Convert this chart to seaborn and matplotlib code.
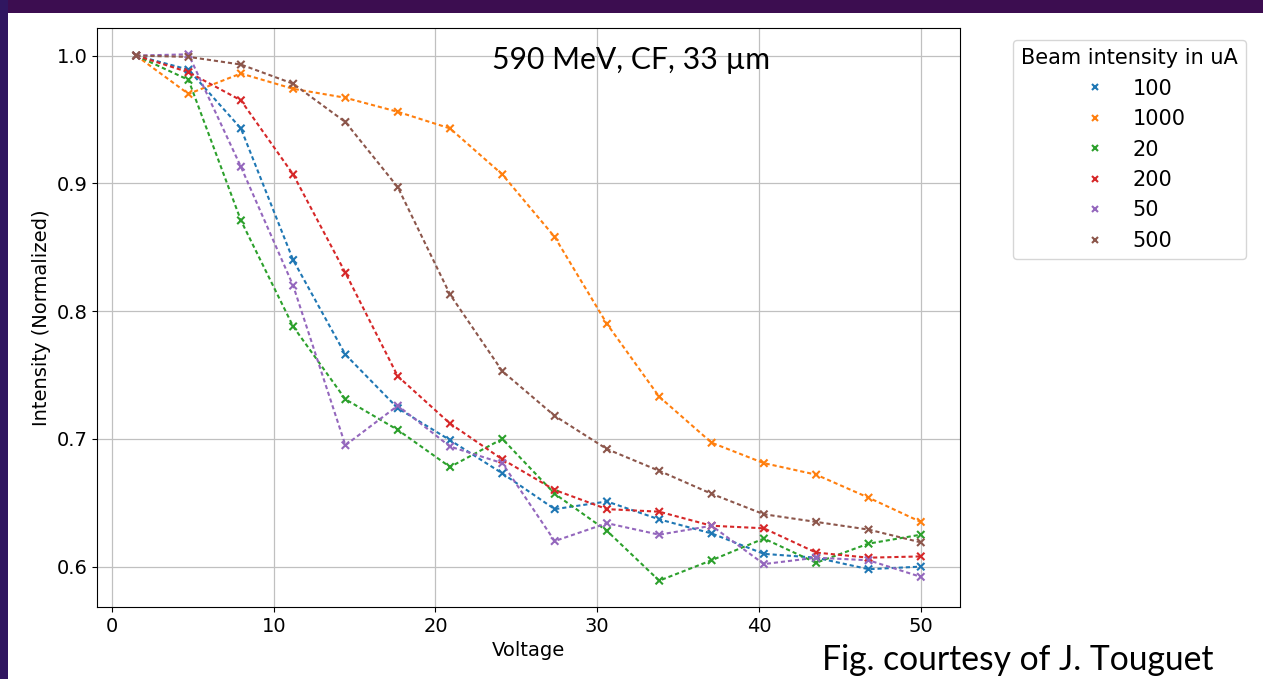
import matplotlib
matplotlib.use("Agg")
import matplotlib.pyplot as plt
import seaborn as sns
import pandas as pd
from matplotlib.patches import Rectangle

voltage = [1.5, 4.73, 7.97, 11.2, 14.43, 17.67, 20.9, 24.13, 27.37, 30.6,
           33.83, 37.07, 40.3, 43.53, 46.77, 50.0]

i100 = [1.0, 0.989, 0.943, 0.840, 0.766, 0.724, 0.699, 0.673, 0.645, 0.651,
        0.637, 0.626, 0.610, 0.607, 0.598, 0.600]
i1000 = [1.0, 0.970, 0.986, 0.974, 0.967, 0.956, 0.943, 0.907, 0.858, 0.790,
         0.733, 0.697, 0.681, 0.672, 0.654, 0.635]
i20 = [1.0, 0.981, 0.871, 0.788, 0.731, 0.707, 0.678, 0.700, 0.657, 0.628,
       0.589, 0.605, 0.622, 0.603, 0.618, 0.625]
i200 = [1.0, 0.987, 0.965, 0.907, 0.830, 0.749, 0.712, 0.684, 0.660, 0.645,
        0.643, 0.632, 0.630, 0.611, 0.607, 0.608]
i50 = [1.0, 1.001, 0.913, 0.820, 0.695, 0.726, 0.694, 0.681, 0.620, 0.634,
       0.625, 0.632, 0.602, 0.607, 0.605, 0.592]
i500 = [1.0, 0.999, 0.993, 0.978, 0.948, 0.897, 0.813, 0.753, 0.718, 0.692,
        0.675, 0.657, 0.641, 0.635, 0.629, 0.619]

labels = ["100", "1000", "20", "200", "50", "500"]
series = [i100, i1000, i20, i200, i50, i500]

rows = []
for lab, vals in zip(labels, series):
    for v, y in zip(voltage, vals):
        rows.append({"Voltage": v, "Intensity": y, "Beam": lab})
df = pd.DataFrame(rows)

palette = dict(zip(labels, sns.color_palette("tab10", 6)))

fig = plt.figure(figsize=(12.63, 6.79), dpi=100, facecolor="white")
purple = "#3c0d50"
fig.patches.append(Rectangle((0, (679 - 13) / 679), 1, 13 / 679,
                             transform=fig.transFigure, facecolor=purple,
                             edgecolor="none", zorder=-10))
fig.patches.append(Rectangle((0, 0), 8 / 1263, 1,
                             transform=fig.transFigure, facecolor="#301660",
                             edgecolor="none", zorder=-10))
ax = fig.add_axes([97 / 1263, 1 - 607 / 679, (960 - 97) / 1263, (607 - 28) / 679])

sns.lineplot(data=df, x="Voltage", y="Intensity", hue="Beam", hue_order=labels,
             palette=palette, linestyle=(0, (2.0, 1.4)), linewidth=1.5,
             legend=False, ax=ax, sort=False)
sns.scatterplot(data=df, x="Voltage", y="Intensity", hue="Beam", hue_order=labels,
                palette=palette, marker="x", s=28, linewidth=1.5, ax=ax, zorder=3)

ax.grid(True, color="#c0c0c0", linewidth=0.9)
ax.set_axisbelow(True)
ax.set_xticks([0, 10, 20, 30, 40, 50])
ax.set_yticks([0.6, 0.7, 0.8, 0.9, 1.0])
ax.tick_params(labelsize=14)
ax.set_xlabel("Voltage", fontsize=14)
ax.set_ylabel("Intensity (Normalized)", fontsize=14)

leg = ax.legend(title="Beam intensity in uA", loc="upper left",
                bbox_to_anchor=((1013 - 97) / 863, (607 - 40) / 579),
                borderaxespad=0, fontsize=15, title_fontsize=15,
                markerscale=0.8)

ax.text((631.5 - 97) / 863, (607 - 60) / 579, "590 MeV, CF, 33 µm",
        transform=ax.transAxes, ha="center", va="center", fontsize=21.7,
        family=["Lato", "DejaVu Sans"])
fig.text(1018 / 1263, 1 - 660 / 679, "Fig. courtesy of J. Touguet",
         ha="center", va="center", fontsize=24.2, family=["Lato", "DejaVu Sans"])

fig.savefig("out.png", dpi=100)
